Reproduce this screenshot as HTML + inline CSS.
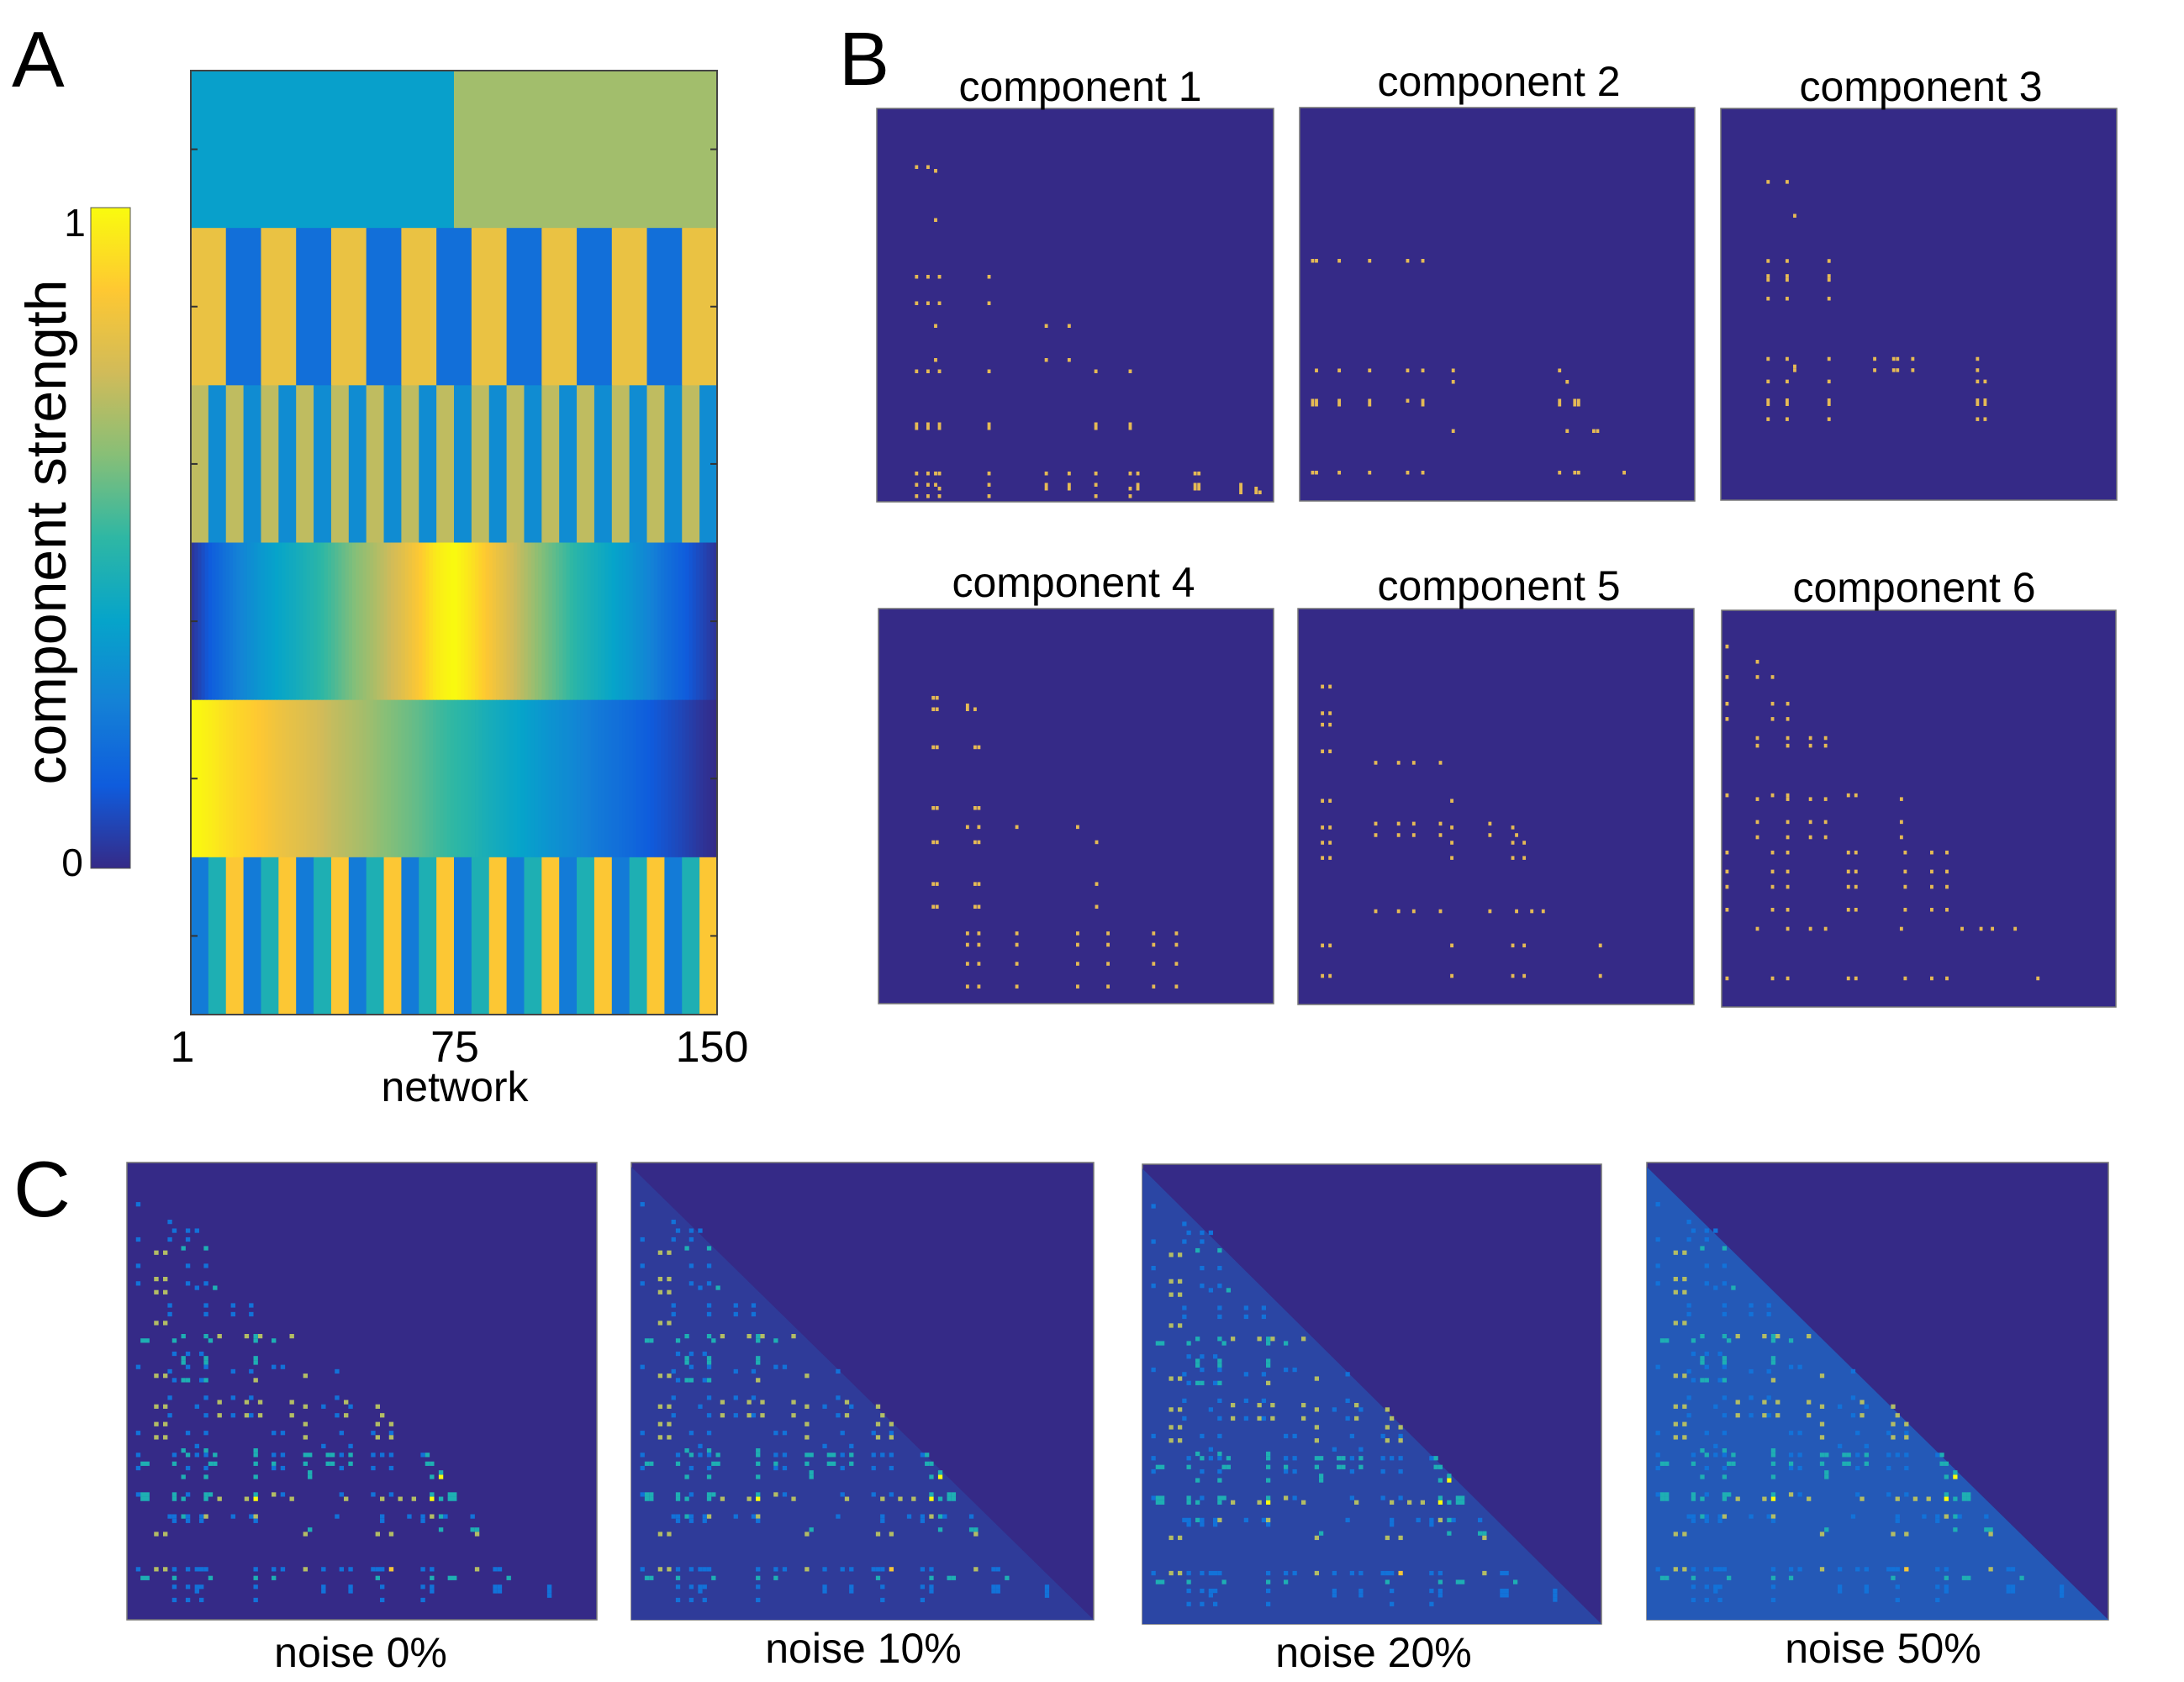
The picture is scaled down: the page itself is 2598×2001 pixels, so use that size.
<!DOCTYPE html>
<html><head><meta charset="utf-8">
<style>
html,body{margin:0;padding:0;background:#fff;}
svg{display:block;font-family:"Liberation Sans",Arial,sans-serif;}
</style></head>
<body>
<svg id="fig" width="2598" height="2001" viewBox="0 0 2598 2001" xmlns="http://www.w3.org/2000/svg">
<defs>
<linearGradient id="cbgrad" x1="0" y1="1" x2="0" y2="0">
<stop offset="0" stop-color="#352A87"/><stop offset="0.125" stop-color="#0F5CDD"/>
<stop offset="0.25" stop-color="#1481D6"/><stop offset="0.375" stop-color="#06A4CA"/>
<stop offset="0.5" stop-color="#2EB7A4"/><stop offset="0.625" stop-color="#87BF77"/>
<stop offset="0.75" stop-color="#D1BB59"/><stop offset="0.875" stop-color="#FEC832"/>
<stop offset="1" stop-color="#F9FB0E"/>
</linearGradient>
</defs>
<text x="14" y="103" font-size="94">A</text>
<text x="998" y="101" font-size="90">B</text>
<text x="16" y="1447" font-size="94">C</text>
<g id="panelA"></g>
<rect x="108" y="247" width="47" height="786" fill="url(#cbgrad)" stroke="#555" stroke-width="1"/>
<text x="89" y="281" font-size="46" text-anchor="middle">1</text>
<text x="86" y="1042" font-size="46" text-anchor="middle">0</text>
<text transform="translate(78,633) rotate(-90)" font-size="68" text-anchor="middle">component strength</text>
<text x="217" y="1263" font-size="52" text-anchor="middle">1</text>
<text x="541" y="1263" font-size="52" text-anchor="middle">75</text>
<text x="847" y="1263" font-size="52" text-anchor="middle">150</text>
<text x="541" y="1310" font-size="50" text-anchor="middle">network</text>
<g id="panelB"></g>
<g id="panelC"></g>
</svg>
<script>
// ---------- Data: panel A ----------
const row1Values = [0.36, 0.67];
const row2Values = [0.82,0.19,0.82,0.19,0.82,0.19,0.82,0.19,0.82,0.19,0.82,0.19,0.82,0.19,0.82];
const row3Values = [0.72,0.29,0.72,0.29,0.72,0.29,0.72,0.29,0.72,0.29,0.72,0.29,0.72,0.29,0.72,0.29,0.72,0.29,0.72,0.29,0.72,0.29,0.72,0.29,0.72,0.29,0.72,0.29,0.72,0.29];
const row4Samples = [0.02,0.12,0.2,0.27,0.33,0.38,0.42,0.47,0.53,0.6,0.66,0.72,0.79,0.87,0.96,1.0,0.94,0.86,0.78,0.7,0.62,0.55,0.48,0.43,0.38,0.33,0.27,0.2,0.14,0.08,0.02];
const row5Samples = [1.0,0.97,0.93,0.9,0.87,0.83,0.8,0.77,0.73,0.7,0.67,0.63,0.6,0.57,0.53,0.5,0.47,0.43,0.4,0.37,0.33,0.3,0.27,0.23,0.2,0.17,0.13,0.1,0.07,0.03,0.0];
const row6Values = [0.23,0.45,0.87,0.23,0.45,0.87,0.23,0.45,0.87,0.23,0.45,0.87,0.23,0.45,0.87,0.23,0.45,0.87,0.23,0.45,0.87,0.23,0.45,0.87,0.23,0.45,0.87,0.23,0.45,0.87];
const nodeCount = 150;

// ---------- Data: panel B (cells [col,row]) ----------
const compTitles = ["component 1","component 2","component 3","component 4","component 5","component 6"];
const comp1Cells = [[10,15],[13,15],[15,16],[15,29],[10,44],[13,44],[16,44],[29,44],[10,51],[13,51],[16,51],[29,51],[15,57],[44,57],[50,57],[15,66],[44,66],[50,66],[10,69],[13,69],[16,69],[29,69],[57,69],[66,69],[10,83],[13,83],[16,83],[29,83],[57,83],[66,83],[10,84],[13,84],[16,84],[29,84],[57,84],[66,84],[10,96],[13,96],[15,96],[16,96],[29,96],[44,96],[50,96],[57,96],[66,96],[68,96],[83,96],[84,96],[10,99],[13,99],[15,99],[16,100],[29,99],[44,99],[44,100],[50,99],[50,100],[57,99],[66,100],[68,99],[68,100],[83,99],[84,99],[83,100],[84,100],[95,99],[95,100],[95,101],[99,100],[99,101],[100,101],[10,102],[13,102],[16,102],[29,102],[57,102],[66,102]];
const comp2Cells = [[3,40],[4,40],[10,40],[18,40],[28,40],[32,40],[4,69],[10,69],[18,69],[28,69],[32,69],[40,69],[68,69],[40,72],[70,72],[3,77],[4,77],[3,78],[4,78],[10,77],[10,78],[18,77],[18,78],[28,77],[32,77],[32,78],[68,77],[68,78],[72,77],[73,77],[72,78],[73,78],[40,85],[70,85],[77,85],[78,85],[3,96],[4,96],[10,96],[18,96],[28,96],[32,96],[68,96],[72,96],[73,96],[85,96]];
const comp3Cells = [[12,19],[17,19],[19,28],[12,40],[17,40],[28,40],[12,44],[17,44],[28,44],[12,45],[17,45],[28,45],[12,50],[17,50],[28,50],[12,66],[17,66],[28,66],[40,66],[45,66],[46,66],[50,66],[67,66],[19,68],[19,69],[40,69],[45,69],[46,69],[50,69],[67,69],[12,72],[17,72],[28,72],[67,72],[69,72],[12,77],[17,77],[28,77],[67,77],[69,77],[12,78],[17,78],[28,78],[67,78],[69,78],[12,82],[17,82],[28,82],[67,82],[69,82]];
const comp4Cells = [[14,23],[15,23],[14,26],[15,26],[23,25],[23,26],[25,26],[14,36],[15,36],[25,36],[26,36],[14,52],[15,52],[25,52],[26,52],[23,57],[26,57],[36,57],[52,57],[14,61],[15,61],[25,61],[26,61],[57,61],[14,72],[15,72],[25,72],[26,72],[57,72],[14,78],[15,78],[25,78],[26,78],[57,78],[23,85],[26,85],[36,85],[52,85],[60,85],[72,85],[78,85],[23,88],[26,88],[36,88],[52,88],[60,88],[72,88],[78,88],[23,93],[26,93],[36,93],[52,93],[60,93],[72,93],[78,93],[23,99],[26,99],[36,99],[52,99],[60,99],[72,99],[78,99]];
const comp5Cells = [[6,20],[8,20],[6,27],[8,27],[6,30],[8,30],[6,37],[8,37],[20,40],[26,40],[30,40],[37,40],[6,50],[8,50],[40,50],[20,56],[26,56],[30,56],[37,56],[50,56],[6,57],[8,57],[40,57],[56,57],[20,59],[26,59],[30,59],[37,59],[50,59],[57,59],[6,61],[8,61],[40,61],[56,61],[59,61],[6,65],[8,65],[40,65],[56,65],[59,65],[20,79],[26,79],[30,79],[37,79],[50,79],[57,79],[61,79],[64,79],[6,88],[8,88],[40,88],[56,88],[59,88],[79,88],[6,96],[8,96],[40,96],[56,96],[59,96],[79,96]];
const comp6Cells = [[1,9],[9,13],[1,17],[9,17],[13,17],[1,24],[13,24],[17,24],[1,28],[13,28],[17,28],[9,33],[17,33],[23,33],[27,33],[9,35],[17,35],[23,35],[27,35],[1,48],[9,49],[13,48],[17,48],[17,49],[23,49],[27,49],[33,48],[35,48],[47,49],[9,55],[17,55],[23,55],[27,55],[47,55],[9,59],[17,59],[23,59],[27,59],[47,59],[1,63],[13,63],[17,63],[33,63],[35,63],[48,63],[55,63],[59,63],[1,68],[13,68],[17,68],[33,68],[35,68],[48,68],[55,68],[59,68],[1,72],[13,72],[17,72],[33,72],[35,72],[48,72],[55,72],[59,72],[1,78],[13,78],[17,78],[33,78],[35,78],[48,78],[55,78],[59,78],[9,83],[17,83],[23,83],[27,83],[47,83],[63,83],[68,83],[71,83],[77,83],[1,96],[13,96],[17,96],[33,96],[35,96],[48,96],[55,96],[59,96],[83,96]];

// ---------- Data: panel C ----------
const noiseLabels = ["noise 0%","noise 10%","noise 20%","noise 50%"];
const noiseFillDensity = [0, 0.22, 0.36, 0.6];
const signalCells = [[2,9,0.2],[9,13,0.2],[10,15,0.2],[13,15,0.2],[15,15,0.2],[2,17,0.2],[9,17,0.2],[13,17,0.2],[12,19,0.45],[17,19,0.45],[6,20,0.7],[8,20,0.7],[2,23,0.2],[13,23,0.2],[17,23,0.2],[6,26,0.7],[8,26,0.7],[2,27,0.2],[13,27,0.2],[17,27,0.2],[15,28,0.2],[19,28,0.45],[6,29,0.7],[8,29,0.7],[9,32,0.2],[17,32,0.2],[23,32,0.2],[27,32,0.2],[9,34,0.2],[17,34,0.2],[23,34,0.2],[27,34,0.2],[6,36,0.7],[8,36,0.7],[12,39,0.45],[17,39,0.45],[20,39,0.7],[26,39,0.7],[29,39,0.7],[36,39,0.7],[28,39,0.45],[3,40,0.45],[4,40,0.45],[10,40,0.45],[18,40,0.45],[28,40,0.45],[32,40,0.45],[10,43,0.2],[13,43,0.2],[16,43,0.2],[12,44,0.45],[17,44,0.45],[28,44,0.45],[12,45,0.45],[17,45,0.45],[28,45,0.45],[2,46,0.2],[13,46,0.2],[17,46,0.2],[32,46,0.2],[34,46,0.2],[9,47,0.2],[23,47,0.2],[27,47,0.2],[46,47,0.2],[6,48,0.7],[8,48,0.7],[39,48,0.7],[10,49,0.2],[12,49,0.45],[13,49,0.45],[16,49,0.2],[17,49,0.45],[28,49,0.7],[9,53,0.2],[17,53,0.2],[23,53,0.2],[27,53,0.2],[46,53,0.2],[20,54,0.7],[26,54,0.7],[29,54,0.7],[36,54,0.7],[48,54,0.7],[6,55,0.7],[8,55,0.7],[15,55,0.2],[39,55,0.7],[43,55,0.2],[49,55,0.2],[55,55,0.7],[9,57,0.2],[17,57,0.2],[20,57,0.7],[23,57,0.2],[26,57,0.7],[27,57,0.2],[29,57,0.7],[36,57,0.7],[46,57,0.2],[48,57,0.7],[56,57,0.7],[6,59,0.7],[8,59,0.7],[39,59,0.7],[55,59,0.7],[58,59,0.7],[2,61,0.2],[13,61,0.2],[17,61,0.2],[32,61,0.2],[34,61,0.2],[47,61,0.2],[54,61,0.2],[58,61,0.2],[6,62,0.7],[8,62,0.7],[39,62,0.7],[55,62,0.7],[58,62,0.7],[15,64,0.2],[43,64,0.2],[49,64,0.2],[12,65,0.45],[17,65,0.45],[28,65,0.45],[2,66,0.2],[10,66,0.2],[13,66,0.45],[15,66,0.2],[17,66,0.2],[19,66,0.45],[28,66,0.45],[32,66,0.2],[34,66,0.2],[39,66,0.45],[40,66,0.45],[44,66,0.45],[45,66,0.45],[47,66,0.2],[49,66,0.45],[54,66,0.2],[56,66,0.2],[58,66,0.2],[65,66,0.2],[66,66,0.45],[3,68,0.45],[4,68,0.45],[10,68,0.45],[18,68,0.45],[19,68,0.45],[28,68,0.45],[32,68,0.45],[39,68,0.45],[44,68,0.45],[45,68,0.45],[49,68,0.45],[66,68,0.45],[67,68,0.45],[2,69,0.2],[13,69,0.2],[17,69,0.2],[32,69,0.2],[34,69,0.2],[47,69,0.2],[54,69,0.2],[58,69,0.2],[12,71,0.45],[17,71,0.45],[28,71,0.45],[40,70,0.45],[40,71,0.45],[67,71,0.45],[69,71,1.0],[69,70,0.45],[2,75,0.2],[3,75,0.45],[4,75,0.45],[3,76,0.45],[4,76,0.45],[10,75,0.45],[10,76,0.45],[12,76,0.45],[13,75,0.2],[17,75,0.45],[18,75,0.45],[17,76,0.45],[20,76,0.7],[26,76,0.7],[28,76,1.0],[28,75,0.45],[32,75,0.7],[34,75,0.2],[36,76,0.7],[47,75,0.2],[48,76,0.7],[54,75,0.2],[56,76,0.7],[58,75,0.2],[60,76,0.7],[63,76,0.7],[67,76,1.0],[67,75,0.45],[69,76,0.45],[71,75,0.45],[72,75,0.45],[71,76,0.45],[72,76,0.45],[9,80,0.2],[10,80,0.2],[10,81,0.2],[12,80,0.45],[13,80,0.2],[13,81,0.2],[16,80,0.2],[16,81,0.2],[17,80,0.7],[23,80,0.2],[27,80,0.2],[28,80,0.7],[28,81,0.2],[46,80,0.2],[56,80,0.2],[56,81,0.2],[62,80,0.2],[65,80,0.2],[65,81,0.2],[67,80,0.7],[69,80,0.45],[70,80,0.2],[76,80,0.2],[40,83,0.45],[69,83,0.45],[76,83,0.45],[77,83,0.45],[6,84,0.7],[8,84,0.7],[39,84,0.7],[55,84,0.7],[58,84,0.7],[77,84,0.7],[2,92,0.2],[6,92,0.7],[8,92,0.7],[10,92,0.2],[13,92,0.2],[15,92,0.2],[16,92,0.2],[17,92,0.2],[28,92,0.2],[32,92,0.2],[34,92,0.2],[39,92,0.7],[43,92,0.2],[47,92,0.2],[49,92,0.2],[54,92,0.2],[55,92,0.2],[56,92,0.2],[58,92,0.85],[65,92,0.2],[67,92,0.2],[77,92,0.7],[81,92,0.2],[82,92,0.2],[3,94,0.45],[4,94,0.45],[10,94,0.45],[18,94,0.45],[28,94,0.45],[32,94,0.45],[55,94,0.45],[67,94,0.45],[71,94,0.45],[72,94,0.45],[84,94,0.45],[10,96,0.2],[13,96,0.2],[15,96,0.2],[16,96,0.2],[15,97,0.2],[28,96,0.2],[43,96,0.2],[43,97,0.2],[49,96,0.2],[49,97,0.2],[56,96,0.2],[65,96,0.2],[67,96,0.2],[67,97,0.2],[81,96,0.2],[82,96,0.2],[81,97,0.2],[82,97,0.2],[93,96,0.2],[93,97,0.2],[93,98,0.2],[10,99,0.2],[13,99,0.2],[16,99,0.2],[28,99,0.2],[56,99,0.2],[65,99,0.2]];

// ---------- Helpers ----------
const NS = "http://www.w3.org/2000/svg";
const parulaStops = [[0,[53,42,135]],[0.125,[15,92,221]],[0.25,[20,129,214]],[0.375,[6,164,202]],[0.5,[46,183,164]],[0.625,[135,191,119]],[0.75,[209,187,89]],[0.875,[254,200,50]],[1,[249,251,14]]];
function parula(v){
  v = Math.max(0, Math.min(1, v));
  for (let i = 0; i < parulaStops.length - 1; i++) {
    const a = parulaStops[i], b = parulaStops[i+1];
    if (v <= b[0]) {
      const t = (v - a[0]) / (b[0] - a[0]);
      const c = a[1].map((x, k) => Math.round(x + (b[1][k] - x) * t));
      return "rgb(" + c.join(",") + ")";
    }
  }
  return "rgb(249,251,14)";
}
function mk(tag, attrs, parent){
  const el = document.createElementNS(NS, tag);
  for (const k in attrs) el.setAttribute(k, attrs[k]);
  parent.appendChild(el);
  return el;
}

// ---------- Panel A ----------
const gA = document.getElementById("panelA");
const ax = {x0: 227, x1: 853, y0: 84, y1: 1207};
const rowH = (ax.y1 - ax.y0) / 6;
function xNode(n){ return ax.x0 + (n / nodeCount) * (ax.x1 - ax.x0); }
function drawSegments(vals, r, name){
  const per = nodeCount / vals.length;
  vals.forEach((v, i) => {
    const x0 = xNode(i * per), x1 = xNode((i + 1) * per);
    const el = mk("rect", {x: x0, y: ax.y0 + r * rowH, width: x1 - x0 + 0.6, height: rowH + 0.6, fill: parula(v)}, gA);
    
    
  });
}
function drawSampled(samples, r, name){
  const step = nodeCount / (samples.length - 1);
  for (let n = 0; n < nodeCount; n++) {
    const pos = (n + 0.5) / step;
    const i = Math.min(samples.length - 2, Math.floor(pos));
    const t = pos - i;
    const v = samples[i] + (samples[i+1] - samples[i]) * t;
    const el = mk("rect", {x: xNode(n), y: ax.y0 + r * rowH, width: xNode(n+1) - xNode(n) + 0.6, height: rowH + 0.6, fill: parula(v)}, gA);
    
    
  }
}
drawSegments(row1Values, 0, "component-1-row");
drawSegments(row2Values, 1, "component-2-row");
drawSegments(row3Values, 2, "component-3-row");
drawSampled(row4Samples, 3, "component-4-row");
drawSampled(row5Samples, 4, "component-5-row");
drawSegments(row6Values, 5, "component-6-row");
const frameA = mk("rect", {x: ax.x0, y: ax.y0, width: ax.x1 - ax.x0, height: ax.y1 - ax.y0, fill: "none", stroke: "#444", "stroke-width": 2}, gA);


for (let r = 0; r < 6; r++) {
  const yc = ax.y0 + (r + 0.5) * rowH;
  mk("line", {x1: ax.x0, x2: ax.x0 + 8, y1: yc, y2: yc, stroke: "#333", "stroke-width": 2}, gA);
  mk("line", {x1: ax.x1 - 8, x2: ax.x1, y1: yc, y2: yc, stroke: "#333", "stroke-width": 2}, gA);
}

// ---------- Panel B ----------
const gB = document.getElementById("panelB");
const bPanels = [
  {x: 1043, y: 129, w: 472, h: 468, tx: 1285, ty: 120},
  {x: 1546, y: 128, w: 470, h: 468, tx: 1783, ty: 114},
  {x: 2047, y: 129, w: 471, h: 466, tx: 2285, ty: 120},
  {x: 1045, y: 724, w: 470, h: 470, tx: 1277, ty: 710},
  {x: 1544, y: 724, w: 471, h: 471, tx: 1783, ty: 714},
  {x: 2048, y: 726, w: 469, h: 472, tx: 2277, ty: 716}
];
const compCells = [comp1Cells, comp2Cells, comp3Cells, comp4Cells, comp5Cells, comp6Cells];
const gridN = 104;
bPanels.forEach((p, k) => {
  const bg = mk("rect", {x: p.x, y: p.y, width: p.w, height: p.h, fill: "#352A87", stroke: "#777", "stroke-width": 1.5}, gB);
  
  
  const t = mk("text", {x: p.tx, y: p.ty, "font-size": 50, "text-anchor": "middle"}, gB);
  t.textContent = compTitles[k];
  
  
  const cw = p.w / gridN, ch = p.h / gridN;
  compCells[k].forEach(c => {
    const d = mk("rect", {x: p.x + c[0] * cw, y: p.y + c[1] * ch, width: cw * 0.85, height: ch, fill: "#E5BA55"}, gB);
    
    
  });
});

// ---------- Panel C ----------
const gC = document.getElementById("panelC");
const cPanels = [
  {x: 151, y: 1383, w: 559, h: 544, lx: 429, ly: 1983},
  {x: 751, y: 1383, w: 550, h: 544, lx: 1027, ly: 1978},
  {x: 1359, y: 1385, w: 546, h: 547, lx: 1634, ly: 1983},
  {x: 1959, y: 1383, w: 549, h: 544, lx: 2240, ly: 1978}
];
function mix(a, b, t){ return a.map((x, i) => Math.round(x + (b[i] - x) * t)); }
cPanels.forEach((p, k) => {
  const bg = mk("rect", {x: p.x, y: p.y, width: p.w, height: p.h, fill: "#352A87", stroke: "#777", "stroke-width": 1.5}, gC);
  
  
  const cw = p.w / gridN, ch = p.h / gridN;
  if (noiseFillDensity[k] > 0) {
    const col = mix([53,42,135], [24,120,215], noiseFillDensity[k]);
    const tri = mk("polygon", {points: p.x + "," + (p.y + ch) + " " + p.x + "," + (p.y + p.h) + " " + (p.x + p.w) + "," + (p.y + p.h), fill: "rgb(" + col.join(",") + ")"}, gC);
    
    
  }
  signalCells.forEach(c => {
    const d = mk("rect", {x: p.x + c[0] * cw, y: p.y + c[1] * ch, width: cw, height: ch, fill: parula(c[2])}, gC);
    
    
  });
  const t = mk("text", {x: p.lx, y: p.ly, "font-size": 50, "text-anchor": "middle"}, gC);
  t.textContent = noiseLabels[k];
  
  
});
</script>
</body></html>
